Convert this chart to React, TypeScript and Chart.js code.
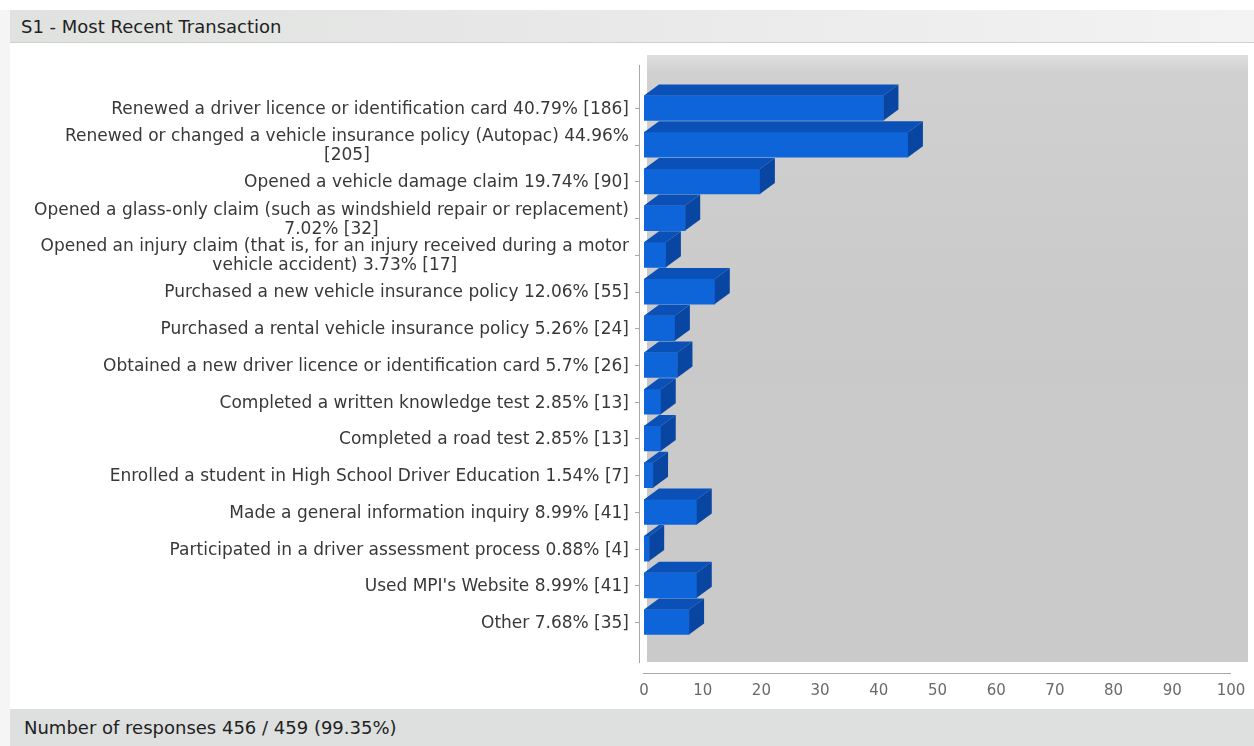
import React, { useEffect, useRef } from "react";
import { Chart, registerables } from "chart.js";

Chart.register(...registerables);

const title = "S1 - Most Recent Transaction";
const footer = "Number of responses 456 / 459 (99.35%)";

const categories: string[][] = [
  ["Renewed a driver licence or identification card 40.79% [186]"],
  ["Renewed or changed a vehicle insurance policy (Autopac) 44.96%", "[205]"],
  ["Opened a vehicle damage claim 19.74% [90]"],
  ["Opened a glass-only claim (such as windshield repair or replacement)", "7.02% [32]"],
  ["Opened an injury claim (that is, for an injury received during a motor", "vehicle accident) 3.73% [17]"],
  ["Purchased a new vehicle insurance policy 12.06% [55]"],
  ["Purchased a rental vehicle insurance policy 5.26% [24]"],
  ["Obtained a new driver licence or identification card 5.7% [26]"],
  ["Completed a written knowledge test 2.85% [13]"],
  ["Completed a road test 2.85% [13]"],
  ["Enrolled a student in High School Driver Education 1.54% [7]"],
  ["Made a general information inquiry 8.99% [41]"],
  ["Participated in a driver assessment process 0.88% [4]"],
  ["Used MPI's Website 8.99% [41]"],
  ["Other 7.68% [35]"],
];

const percents = [40.79, 44.96, 19.74, 7.02, 3.73, 12.06, 5.26, 5.7, 2.85, 2.85, 1.54, 8.99, 0.88, 8.99, 7.68];

const xTicks = [0, 10, 20, 30, 40, 50, 60, 70, 80, 90, 100];

const FONT = "'DejaVu Sans', Verdana, sans-serif";
const DX = 15;
const DY = 11;

const decorPlugin = {
  id: "decor",
  beforeDatasetsDraw(chart: any) {
    const { ctx, chartArea } = chart;
    const x0 = chartArea.left + 3;
    const x1 = chartArea.right + 17;
    const y0 = 55;
    const y1 = 662;
    ctx.save();
    const g = ctx.createLinearGradient(0, y0, 0, y1);
    g.addColorStop(0, "#dedede");
    g.addColorStop(0.03, "#d0d0d0");
    g.addColorStop(0.5, "#c9c9c9");
    g.addColorStop(1, "#cacaca");
    ctx.fillStyle = g;
    ctx.fillRect(x0, y0, x1 - x0, y1 - y0);
    ctx.restore();
  },
  afterDatasetsDraw(chart: any) {
    const { ctx } = chart;
    const meta = chart.getDatasetMeta(0);
    ctx.save();
    meta.data.forEach((bar: any) => {
      const { x, y, base, height } = bar.getProps(["x", "y", "base", "height"], true);
      const top = y - height / 2;
      const bottom = y + height / 2;
      ctx.beginPath();
      ctx.moveTo(base, top);
      ctx.lineTo(base + DX, top - DY);
      ctx.lineTo(x + DX, top - DY);
      ctx.lineTo(x, top);
      ctx.closePath();
      ctx.fillStyle = "#0a50b6";
      ctx.fill();
      ctx.beginPath();
      ctx.moveTo(x, top);
      ctx.lineTo(x + DX, top - DY);
      ctx.lineTo(x + DX, bottom - DY);
      ctx.lineTo(x, bottom);
      ctx.closePath();
      ctx.fillStyle = "#0946a2";
      ctx.fill();
    });
    ctx.restore();
  },
  afterDraw(chart: any) {
    const { ctx, chartArea } = chart;
    const yScale = chart.scales.y;
    ctx.save();
    ctx.strokeStyle = "#a8a8a8";
    ctx.lineWidth = 1;
    ctx.beginPath();
    ctx.moveTo(chartArea.left - 4.5, 65);
    ctx.lineTo(chartArea.left - 4.5, 663);
    ctx.stroke();
    ctx.beginPath();
    ctx.moveTo(chartArea.left - 1, 673.5);
    ctx.lineTo(chartArea.right, 673.5);
    ctx.stroke();
    ctx.fillStyle = "#383838";
    ctx.font = `17px ${FONT}`;
    ctx.textBaseline = "middle";
    ctx.textAlign = "center";
    const lineH = 19;
    const rightEdge = chartArea.left - 15;
    categories.forEach((lines, i) => {
      const cy = yScale.getPixelForTick(i);
      ctx.beginPath();
      ctx.moveTo(chartArea.left - 9, Math.round(cy) + 0.5);
      ctx.lineTo(chartArea.left - 4.5, Math.round(cy) + 0.5);
      ctx.stroke();
      const widths = lines.map((l) => ctx.measureText(l).width);
      const w = Math.max(...widths);
      const cx = rightEdge - w / 2;
      const startY = cy + 1.5 - ((lines.length - 1) * lineH) / 2;
      lines.forEach((l, k) => {
        ctx.fillText(l, cx, startY + k * lineH);
      });
    });
    ctx.restore();
  },
};

export default function App() {
  const ref = useRef<HTMLCanvasElement | null>(null);
  useEffect(() => {
    document.body.style.margin = "0";
    const canvas = ref.current!;
    const chart = new Chart(canvas, {
      type: "bar",
      data: {
        labels: categories.map((c) => c.join(" ")),
        datasets: [
          {
            data: percents,
            backgroundColor: "#0e65da",
            borderWidth: 0,
            barThickness: 25,
          },
        ],
      },
      options: {
        indexAxis: "y",
        animation: false,
        responsive: false,
        events: [],
        layout: { padding: { left: 644, right: 23, top: 89.6, bottom: 0 } },
        plugins: { legend: { display: false }, tooltip: { enabled: false }, title: { display: false } },
        scales: {
          y: {
            type: "category",
            display: false,
            offset: true,
          },
          x: {
            type: "linear",
            min: 0,
            max: 100,
            afterFit: (s: any) => {
              s.height = 746 - 640.4;
              s.paddingLeft = 0;
              s.paddingRight = 0;
            },
            afterBuildTicks: (s: any) => {
              s.ticks = xTicks.map((v) => ({ value: v }));
            },
            grid: { display: false, drawTicks: false },
            border: { display: false },
            ticks: {
              padding: 42,
              color: "#6a6a6a",
              font: { family: FONT, size: 15 },
              maxRotation: 0,
              autoSkip: false,
            },
          },
        },
      },
      plugins: [decorPlugin],
    } as any);
    return () => chart.destroy();
  }, []);

  return (
    <div style={{ position: "relative", width: 1254, height: 746, background: "#fff", overflow: "hidden", fontFamily: FONT }}>
      <div style={{ position: "absolute", left: 0, top: 10, width: 10, height: 736, background: "#f5f5f5" }} />
      <div
        style={{
          position: "absolute",
          left: 10,
          top: 10,
          width: 1244,
          height: 33,
          background: "linear-gradient(to right, #e0e2e0 0%, #e8e9e8 50%, #f3f3f3 100%)",
          borderBottom: "1px solid #cfd1cf",
          color: "#222",
          fontSize: 18,
          lineHeight: "33px",
          paddingLeft: 11,
          boxSizing: "border-box",
          whiteSpace: "nowrap",
        }}
      >
        {title}
      </div>
      <div
        style={{
          position: "absolute",
          left: 10,
          top: 709,
          width: 1244,
          height: 37,
          background: "#dde0de",
          color: "#222",
          fontSize: 18,
          lineHeight: "37px",
          paddingLeft: 14,
          boxSizing: "border-box",
          whiteSpace: "nowrap",
        }}
      >
        {footer}
      </div>
      <canvas ref={ref} width={1254} height={746} style={{ position: "absolute", left: 0, top: 0 }} />
    </div>
  );
}
